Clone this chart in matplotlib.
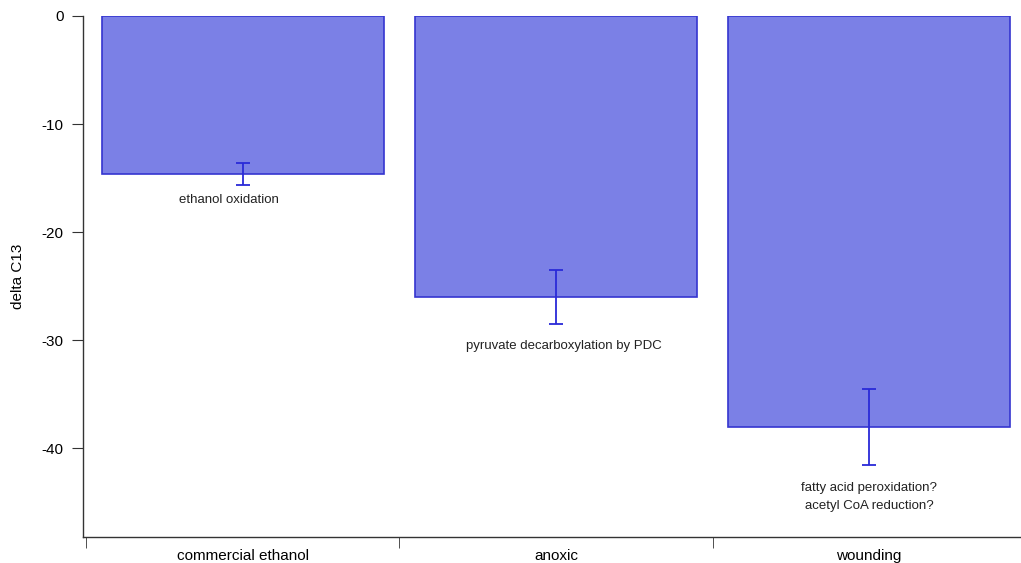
import numpy as np
import matplotlib.pyplot as plt
from matplotlib.ticker import FixedLocator

plt.rcParams["font.family"] = ["Liberation Sans", "DejaVu Sans"]
plt.rcParams["axes.unicode_minus"] = False

categories = ["commercial ethanol", "anoxic", "wounding"]
delta_c13 = [-14.6, -26.0, -38.0]
errors = [1.0, 2.5, 3.5]
notes = ["ethanol oxidation", "pyruvate decarboxylation by PDC",
         "fatty acid peroxidation?\nacetyl CoA reduction?"]
note_y = [-17.0, -30.5, -44.5]
note_dx = [-0.045, 0.025, 0.0]

fig = plt.figure(figsize=(10.21, 5.63), dpi=100)
ax = fig.add_axes([0.0813, 0.0462, 0.9187, 0.9254])

x = np.arange(len(categories))
ax.bar(x, delta_c13, width=0.9, color="#7b80e6", edgecolor="#3535d0",
       linewidth=1.2, zorder=2)
ax.errorbar(x, delta_c13, yerr=errors, fmt="none", ecolor="#2a2ad8",
            elinewidth=1.3, capsize=5, capthick=1.3, zorder=3)

for xi, ny, dx, txt in zip(x, note_y, note_dx, notes):
    ax.text(xi + dx, ny, txt, ha="center", va="center", fontsize=9.5,
            color="#222222", linespacing=1.6)

ax.set_xlim(-0.51, 2.485)
ax.set_ylim(-48.2, 0)
ax.set_yticks([0, -10, -20, -30, -40])
ax.set_ylabel("delta C13", fontsize=11, labelpad=12)

ax.set_xticks(x)
ax.set_xticklabels(categories, fontsize=11)
ax.tick_params(axis="x", which="major", length=0, pad=9)
ax.xaxis.set_minor_locator(FixedLocator([-0.5, 0.5, 1.5]))
ax.tick_params(axis="x", which="minor", length=8, direction="out", color="#333333")
ax.tick_params(axis="y", length=8, direction="out", labelsize=11, pad=6,
               color="#333333")

for side in ["top", "right"]:
    ax.spines[side].set_visible(False)
for side in ["left", "bottom"]:
    ax.spines[side].set_color("#333333")
    ax.spines[side].set_linewidth(1.0)

fig.savefig("out.png", dpi=100)
